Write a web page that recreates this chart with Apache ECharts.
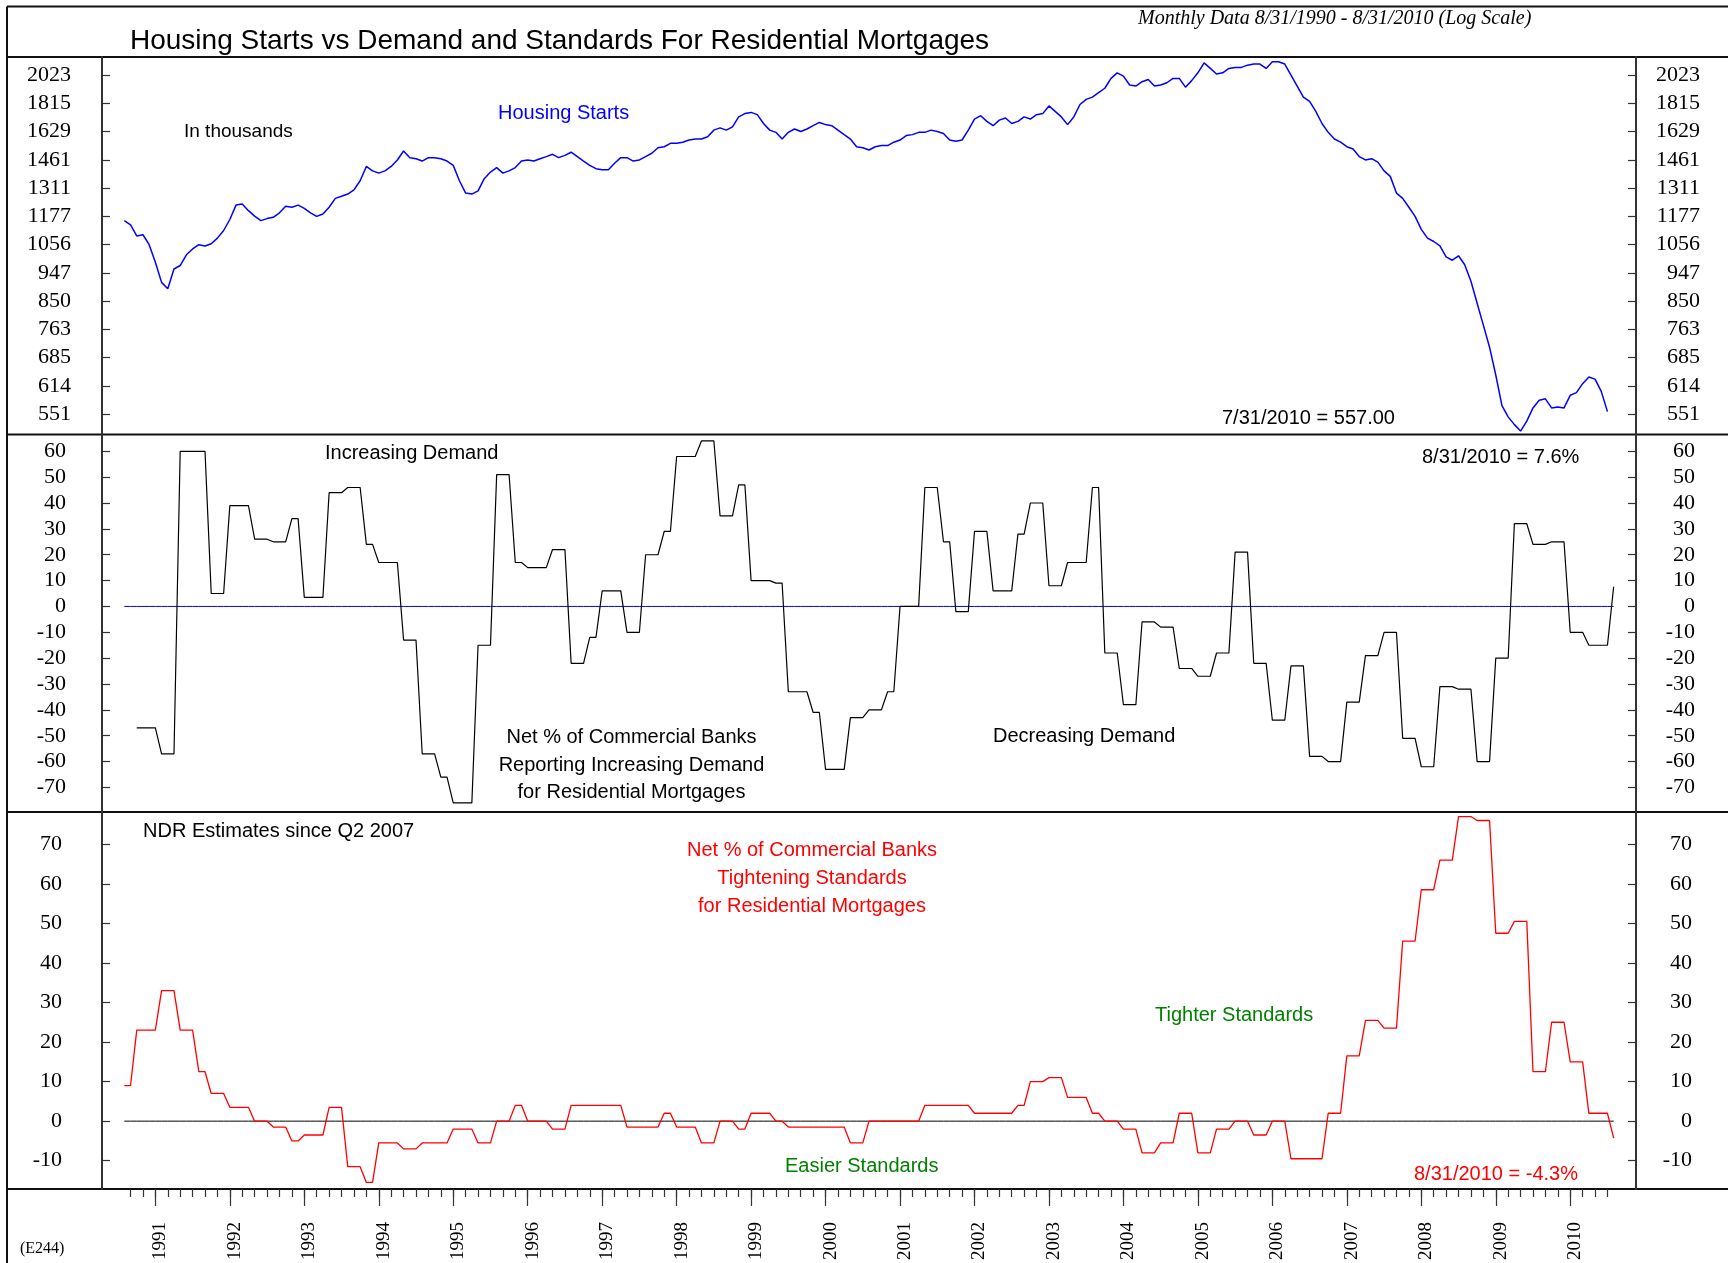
<!DOCTYPE html>
<html>
<head>
<meta charset="utf-8">
<script src="https://cdn.jsdelivr.net/npm/echarts@6/dist/echarts.min.js"></script>
<style>
  html, body { margin: 0; padding: 0; background: #fff; }
  #chart { width: 1728px; height: 1263px; }
</style>
</head>
<body>
<div id="chart"></div>
<script>
// monthly data, index 0 = Aug 1990
// housing starts (thousands, 3 mo avg), Aug 1990 .. Jul 2010
const housingStarts = [
  1158, 1139, 1092, 1097, 1056, 987, 914, 892, 962, 975,
  1016, 1039, 1056, 1051, 1060, 1083, 1115, 1163, 1229, 1234,
  1203, 1178, 1158, 1167, 1173, 1193, 1224, 1219, 1229, 1214,
  1193, 1177, 1188, 1219, 1261, 1271, 1282, 1303, 1349, 1425,
  1401, 1389, 1401, 1425, 1461, 1512, 1474, 1468, 1455, 1474,
  1474, 1468, 1455, 1431, 1349, 1287, 1282, 1298, 1360, 1395,
  1419, 1389, 1401, 1419, 1455, 1461, 1455, 1468, 1480, 1493,
  1474, 1487, 1505, 1480, 1455, 1431, 1413, 1407, 1407, 1443,
  1474, 1474, 1455, 1461, 1480, 1499, 1531, 1537, 1557, 1557,
  1564, 1577, 1583, 1583, 1597, 1638, 1652, 1638, 1659, 1723,
  1745, 1753, 1738, 1680, 1638, 1624, 1583, 1624, 1645, 1629,
  1645, 1666, 1687, 1673, 1666, 1638, 1610, 1583, 1537, 1531,
  1518, 1537, 1544, 1544, 1564, 1577, 1604, 1610, 1624, 1624,
  1638, 1629, 1617, 1577, 1570, 1577, 1638, 1709, 1731, 1694,
  1666, 1702, 1716, 1680, 1694, 1723, 1709, 1738, 1745, 1797,
  1760, 1723, 1673, 1723, 1807, 1843, 1859, 1891, 1923, 1997,
  2040, 2014, 1947, 1939, 1972, 1989, 1939, 1947, 1964, 1997,
  1997, 1931, 1980, 2040, 2119, 2075, 2031, 2040, 2075, 2083,
  2083, 2101, 2110, 2110, 2075, 2128, 2128, 2110, 2023, 1939,
  1859, 1828, 1760, 1680, 1624, 1583, 1564, 1537, 1524, 1480,
  1461, 1468, 1449, 1401, 1372, 1287, 1261, 1219, 1177, 1120,
  1083, 1069, 1051, 1008, 995, 1012, 978, 918, 844, 776,
  713, 641, 570, 546, 530, 517, 537, 565, 582, 585,
  565, 567, 565, 593, 599, 620, 636, 631, 602, 557
];

// net % of banks reporting increasing demand, Aug 1990 .. Aug 2010
const demand = [
  null, null, -47, -47, -47,
  -47, -57, -57, -57, 60, 60, 60, 60, 60, 5, 5, 5,
  39, 39, 39, 39, 26, 26, 26, 25, 25, 25, 34, 34,
  3.5, 3.5, 3.5, 3.5, 44, 44, 44, 46, 46, 46, 24, 24,
  17, 17, 17, 17, -13, -13, -13, -57, -57, -57, -66, -66,
  -76, -76, -76, -76, -15, -15, -15, 51, 51, 51, 17, 17,
  15, 15, 15, 15, 22, 22, 22, -22, -22, -22, -12, -12,
  6, 6, 6, 6, -10, -10, -10, 20, 20, 20, 29, 29,
  58, 58, 58, 58, 64, 64, 64, 35, 35, 35, 47, 47,
  10, 10, 10, 10, 9, 9, -33, -33, -33, -33, -41, -41,
  -63, -63, -63, -63, -43, -43, -43, -40, -40, -40, -33, -33,
  0, 0, 0, 0, 46, 46, 46, 25, 25, -2, -2, -2,
  29, 29, 29, 6, 6, 6, 6, 28, 28, 40, 40, 40,
  8, 8, 8, 17, 17, 17, 17, 46, 46, -18, -18, -18,
  -38, -38, -38, -6, -6, -6, -8, -8, -8, -24, -24, -24,
  -27, -27, -27, -18, -18, -18, 21, 21, 21, -22, -22, -22,
  -44, -44, -44, -23, -23, -23, -58, -58, -58, -60, -60, -60,
  -37, -37, -37, -19, -19, -19, -10, -10, -10, -51, -51, -51,
  -62, -62, -62, -31, -31, -31, -32, -32, -32, -60, -60, -60,
  -20, -20, -20, 32, 32, 32, 24, 24, 24, 25, 25, 25,
  -10, -10, -10, -15, -15, -15, -15, 7.6
];

// net % of banks tightening standards, Aug 1990 .. Aug 2010
const standards = [
  9, 9, 23, 23, 23,
  23, 33, 33, 33, 23, 23, 23, 12.5, 12.5, 7, 7, 7,
  3.5, 3.5, 3.5, 3.5, 0, 0, 0, -1.5, -1.5, -1.5, -5, -5,
  -3.5, -3.5, -3.5, -3.5, 3.5, 3.5, 3.5, -11.5, -11.5, -11.5, -15.5, -15.5,
  -5.5, -5.5, -5.5, -5.5, -7, -7, -7, -5.5, -5.5, -5.5, -5.5, -5.5,
  -2, -2, -2, -2, -5.5, -5.5, -5.5, 0, 0, 0, 4, 4,
  0, 0, 0, 0, -2, -2, -2, 4, 4, 4, 4, 4,
  4, 4, 4, 4, -1.5, -1.5, -1.5, -1.5, -1.5, -1.5, 2, 2,
  -1.5, -1.5, -1.5, -1.5, -5.5, -5.5, -5.5, 0, 0, 0, -2, -2,
  2, 2, 2, 2, 0, 0, -1.5, -1.5, -1.5, -1.5, -1.5, -1.5,
  -1.5, -1.5, -1.5, -1.5, -5.5, -5.5, -5.5, 0, 0, 0, 0, 0,
  0, 0, 0, 0, 4, 4, 4, 4, 4, 4, 4, 4,
  2, 2, 2, 2, 2, 2, 2, 4, 4, 10, 10, 10,
  11, 11, 11, 6, 6, 6, 6, 2, 2, 0, 0, 0,
  -2, -2, -2, -8, -8, -8, -5.5, -5.5, -5.5, 2, 2, 2,
  -8, -8, -8, -2, -2, -2, 0, 0, 0, -3.5, -3.5, -3.5,
  0, 0, 0, -9.5, -9.5, -9.5, -9.5, -9.5, -9.5, 2, 2, 2,
  16.5, 16.5, 16.5, 25.5, 25.5, 25.5, 23.5, 23.5, 23.5, 45.5, 45.5, 45.5,
  58.5, 58.5, 58.5, 66, 66, 66, 77, 77, 77, 76, 76, 76,
  47.5, 47.5, 47.5, 50.5, 50.5, 50.5, 12.5, 12.5, 12.5, 25, 25, 25,
  15, 15, 15, 2, 2, 2, 2, -4.3
];

// tick labels
const startsTicks = [551, 614, 685, 763, 850, 947, 1056, 1177, 1311, 1461, 1629, 1815, 2023];
const demandTicks = [-70, -60, -50, -40, -30, -20, -10, 0, 10, 20, 30, 40, 50, 60];
const standardsTicks = [-10, 0, 10, 20, 30, 40, 50, 60, 70];
const yearLabels = ['1991', '1992', '1993', '1994', '1995', '1996', '1997', '1998', '1999', '2000',
  '2001', '2002', '2003', '2004', '2005', '2006', '2007', '2008', '2009', '2010'];

// month index of each January (data starts Aug 1990)
const yearTicks = yearLabels.map((y, i) => 5 + 12 * i);
// year text sits a little right of its tick
const yearLabelPos = yearTicks.map((m) => m + 0.8);
// small ticks every second month
const minorTicks = [];
for (let m = 1; m < housingStarts.length; m += 2) minorTicks.push(m);
const zeroLine = demand.map((v, i) => [i, 0]);

const xMin = -3.6;
const xMax = 243.6;

const serif = '"Liberation Serif", "Times New Roman", serif';
const sans = '"Liberation Sans", Arial, sans-serif';
const axisColor = '#333';

function yAxisFor(grid, pos, type, min, max, ticks, margin, size) {
  return {
    gridIndex: grid,
    type: type,
    position: pos,
    min: min,
    max: max,
    axisLine: { show: true, onZero: false, lineStyle: { color: axisColor, width: 2 } },
    axisTick: { show: true, inside: true, length: 8, customValues: ticks, lineStyle: { color: axisColor, width: 1.2 } },
    axisLabel: {
      customValues: ticks,
      margin: margin,
      align: 'right',
      color: '#000',
      fontFamily: serif,
      fontSize: size,
      formatter: (v) => String(v)
    },
    splitLine: { show: false }
  };
}

function hiddenX(grid) {
  return {
    gridIndex: grid, type: 'value', min: xMin, max: xMax,
    axisLine: { show: false, onZero: false }, axisTick: { show: false },
    axisLabel: { show: false }, splitLine: { show: false }
  };
}

const myChart = echarts.init(document.getElementById('chart'), null, { renderer: 'canvas' });

const frame = { stroke: '#111', lineWidth: 2 };
function hline(y) {
  return { type: 'line', shape: { x1: 7, y1: y, x2: 1728, y2: y }, style: frame, silent: true };
}
function label(text, x, y, font, color, align) {
  return {
    type: 'text', x: x, y: y + 1.5, silent: true,
    style: {
      text: text, font: font, fill: color || '#000',
      align: align || 'left', textAlign: align || 'left',
      verticalAlign: 'middle', textVerticalAlign: 'middle'
    }
  };
}

const option = {
  animation: false,
  backgroundColor: '#fff',
  grid: [
    { left: 102, right: 92, top: 57, height: 377.5, outerBoundsMode: 'none' },
    { left: 102, right: 92, top: 434.5, height: 377.5, outerBoundsMode: 'none' },
    { left: 102, right: 92, top: 812, height: 377, outerBoundsMode: 'none' }
  ],
  xAxis: [
    hiddenX(0),
    hiddenX(1),
    {
      gridIndex: 2, type: 'value', min: xMin, max: xMax, position: 'bottom',
      axisLine: { show: false, onZero: false }, splitLine: { show: false },
      axisTick: { show: true, length: 8, customValues: minorTicks, lineStyle: { color: axisColor, width: 1.2 } },
      axisLabel: { show: false }
    },
    {
      gridIndex: 2, type: 'value', min: xMin, max: xMax, position: 'bottom',
      axisLine: { show: false, onZero: false }, splitLine: { show: false },
      axisTick: { show: true, length: 17, customValues: yearTicks, lineStyle: { color: axisColor, width: 1.2 } },
      axisLabel: {
        customValues: yearLabelPos,
        rotate: 90,
        margin: 33,
        color: '#000',
        fontFamily: serif,
        fontSize: 19,
        formatter: (v) => yearLabels[Math.round((v - 5) / 12)]
      }
    }
  ],
  yAxis: [
    yAxisFor(0, 'left', 'log', 510.3, 2167.6, startsTicks, 31, 22),
    yAxisFor(0, 'right', 'log', 510.3, 2167.6, startsTicks, 64, 22),
    yAxisFor(1, 'left', 'value', -79.5, 66.5, demandTicks, 36, 22),
    yAxisFor(1, 'right', 'value', -79.5, 66.5, demandTicks, 59, 22),
    yAxisFor(2, 'left', 'value', -17.15, 78.15, standardsTicks, 40, 22),
    yAxisFor(2, 'right', 'value', -17.15, 78.15, standardsTicks, 56, 22)
  ],
  series: [
    {
      name: 'Housing Starts', type: 'line', xAxisIndex: 0, yAxisIndex: 0,
      data: housingStarts.map((v, i) => [i, v]),
      symbol: 'none', lineStyle: { color: '#0000ff', width: 1.5 }, silent: true
    },
    {
      name: 'zero demand', type: 'line', xAxisIndex: 1, yAxisIndex: 2,
      data: zeroLine, symbol: 'none', lineStyle: { color: '#0000ff', width: 1 }, silent: true
    },
    {
      name: 'Demand', type: 'line', xAxisIndex: 1, yAxisIndex: 2,
      data: demand.map((v, i) => [i, v]),
      symbol: 'none', connectNulls: false, lineStyle: { color: '#000', width: 1.2 }, silent: true
    },
    {
      name: 'zero standards', type: 'line', xAxisIndex: 2, yAxisIndex: 4,
      data: zeroLine, symbol: 'none', lineStyle: { color: '#000', width: 1 }, silent: true
    },
    {
      name: 'Standards', type: 'line', xAxisIndex: 2, yAxisIndex: 4,
      data: standards.map((v, i) => [i, v]),
      symbol: 'none', lineStyle: { color: '#ff0000', width: 1.3 }, silent: true
    }
  ],
  graphic: [
    { type: 'line', shape: { x1: 7, y1: 6.5, x2: 1728, y2: 6.5 }, style: frame, silent: true },
    { type: 'line', shape: { x1: 7, y1: 6.5, x2: 7, y2: 1263 }, style: frame, silent: true },
    hline(57), hline(434.5), hline(812), hline(1189),
    label('Housing Starts vs Demand and Standards For Residential Mortgages', 130, 39.5, '28px ' + sans),
    label('Monthly Data 8/31/1990 - 8/31/2010 (Log Scale)', 1138, 17.6, 'italic 20px ' + serif),
    label('In thousands', 184, 130, '19px ' + sans),
    label('Housing Starts', 498, 112.4, '20px ' + sans, '#0000ff'),
    label('7/31/2010 = 557.00', 1222, 416.6, '20px ' + sans),
    label('Increasing Demand', 325, 452, '20px ' + sans),
    label('8/31/2010 = 7.6%', 1422, 456, '20px ' + sans),
    label('Net % of Commercial Banks', 631.5, 736, '20px ' + sans, '#000', 'center'),
    label('Reporting Increasing Demand', 631.5, 764, '20px ' + sans, '#000', 'center'),
    label('for Residential Mortgages', 631.5, 791, '20px ' + sans, '#000', 'center'),
    label('Decreasing Demand', 993, 735, '20px ' + sans),
    label('NDR Estimates since Q2 2007', 143, 830, '20px ' + sans),
    label('Net % of Commercial Banks', 812, 848.5, '20px ' + sans, '#ff0000', 'center'),
    label('Tightening Standards', 812, 877, '20px ' + sans, '#ff0000', 'center'),
    label('for Residential Mortgages', 812, 905, '20px ' + sans, '#ff0000', 'center'),
    label('Tighter Standards', 1155, 1014, '20px ' + sans, '#008000'),
    label('Easier Standards', 785, 1165, '20px ' + sans, '#008000'),
    label('8/31/2010 = -4.3%', 1414, 1172.5, '20px ' + sans, '#ff0000'),
    label('(E244)', 20, 1247.5, '16px ' + serif)
  ]
};

myChart.setOption(option);
</script>
</body>
</html>
